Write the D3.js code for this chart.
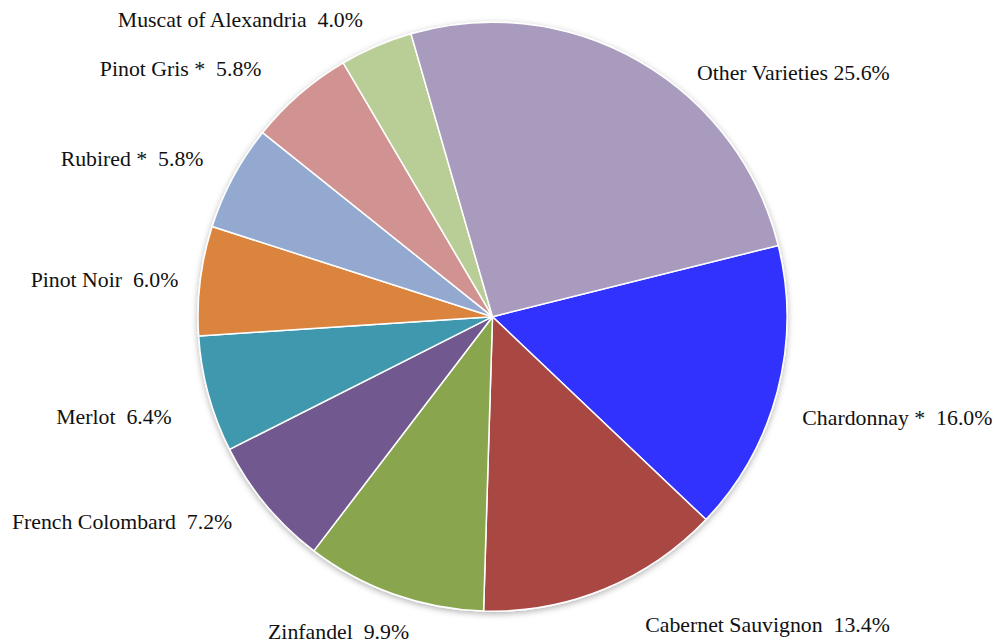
<!DOCTYPE html>
<html>
<head>
<meta charset="utf-8">
<script src="https://cdn.jsdelivr.net/npm/d3@7/dist/d3.min.js"></script>
<style>
  html, body { margin: 0; padding: 0; background: #ffffff; }
  svg { display: block; }
  text { font-family: "Liberation Serif", "Times New Roman", serif; white-space: pre; }
</style>
</head>
<body>
<svg id="chart" width="995" height="643"></svg>
<script>
// ---- data ----
const categories = ["Chardonnay *", "Cabernet Sauvignon", "Zinfandel", "French Colombard", "Merlot",
                    "Pinot Noir", "Rubired *", "Pinot Gris *", "Muscat of Alexandria", "Other Varieties"];
const shares = [16.0, 13.4, 9.9, 7.2, 6.4, 6.0, 5.8, 5.8, 4.0, 25.6];
const separators = ["  ", "  ", "  ", "  ", "  ", "  ", "  ", "  ", "  ", " "];
const colors = ["#3333FF", "#A94643", "#89A54E", "#71588F", "#4198AF",
                "#DB843D", "#93A9CF", "#D19392", "#B9CD96", "#A99BBD"];

// ---- layout ----
const width = 995, height = 643;
const cx = 492.5, cy = 316.7, radius = 294.5;
const startDeg = 76.0;
const labelRadius = 322;
const fontSize = 21.8;
// per-label nudges [dx, dy] relative to the computed outside position
const labelNudges = [[1.6, 16], [106, -0.6], [-22.7, 0.8], [-38, -7.9], [-12.1, 12.3],
                     [4.9, 4], [-13.9, 0.4], [-48.2, 4.8], [-76.6, 10.1], [91.9, 45.6]];

const svg = d3.select("#chart");
const defs = svg.append("defs");
const filter = defs.append("filter").attr("id", "shadow")
  .attr("x", "-10%").attr("y", "-10%").attr("width", "120%").attr("height", "120%");
filter.append("feDropShadow").attr("dx", 0).attr("dy", 2).attr("stdDeviation", 3)
  .attr("flood-color", "#000").attr("flood-opacity", 0.3);

const data = categories.map((c, i) => ({ name: c, value: shares[i], color: colors[i], sep: separators[i], nudge: labelNudges[i] }));

const start = startDeg * Math.PI / 180;
const pie = d3.pie().sort(null).value(d => d.value)
  .startAngle(start).endAngle(start + 2 * Math.PI);
const arcs = pie(data);
const arc = d3.arc().innerRadius(0).outerRadius(radius);

const g = svg.append("g").attr("transform", `translate(${cx},${cy})`);
const pieG = g.append("g").attr("filter", "url(#shadow)");
pieG.selectAll("path").data(arcs).enter().append("path")
  .attr("d", arc)
  .attr("fill", d => d.data.color)
  .attr("stroke", "#ffffff")
  .attr("stroke-width", 1.5)
  .attr("stroke-linejoin", "round");

const fmt = d3.format(".1f");
const boxH = 24;
g.selectAll("text.lbl").data(arcs).enter().append("text")
  .attr("class", "lbl")
  .attr("font-size", fontSize)
  .attr("fill", "#111")
  .attr("text-anchor", "start")
  .text(d => d.data.name + d.data.sep + fmt(d.data.value) + "%")
  .each(function(d) {
    const mid = (d.startAngle + d.endAngle) / 2;
    const s = Math.sin(mid), c = Math.cos(mid);
    const px = labelRadius * s, py = -labelRadius * c;
    const w = this.getComputedTextLength();
    const x = px - w * (1 - s) / 2 + d.data.nudge[0];
    const y = py - (boxH / 2) * c + 7 + d.data.nudge[1];
    d3.select(this).attr("x", x).attr("y", y);
  });
</script>
</body>
</html>
